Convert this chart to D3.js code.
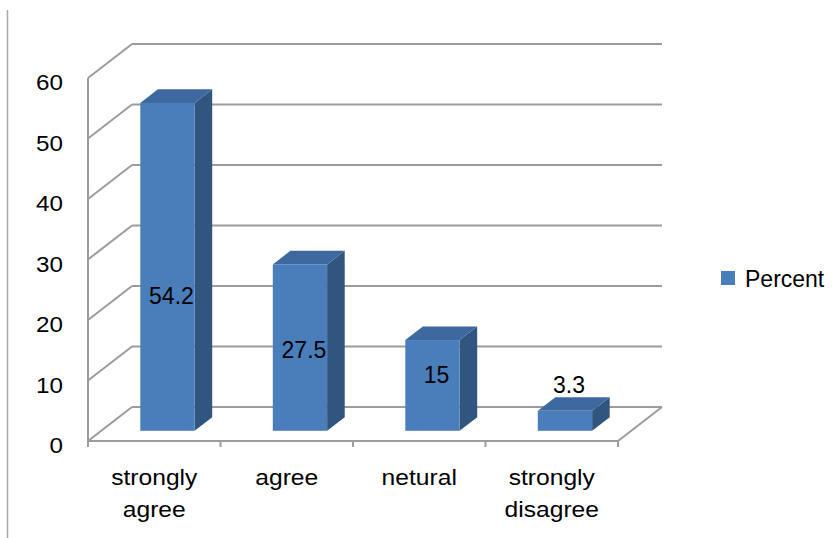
<!DOCTYPE html>
<html>
<head>
<meta charset="utf-8">
<script src="https://cdn.jsdelivr.net/npm/d3@7/dist/d3.min.js"></script>
<style>
  html, body { margin: 0; padding: 0; background: #fff; }
  svg { display: block; }
  text { font-family: "Liberation Sans", Arial, sans-serif; fill: #000; }
</style>
</head>
<body>
<div id="chart"></div>
<script>
// ---- data ----
const categories = ["strongly agree", "agree", "netural", "strongly disagree"];
const values = [54.2, 27.5, 15, 3.3];
const yTicks = [0, 10, 20, 30, 40, 50, 60];
const seriesName = "Percent";

// ---- layout ----
const W = 838, H = 538;
const svg = d3.select("#chart").append("svg").attr("width", W).attr("height", H);

const depth = { dx: 44, dy: -34 };           // full depth of the 3D walls
const barDepth = [0.3, 0.7];                  // bars sit in the middle of the depth
const x = d3.scaleBand().domain(categories).range([88, 618]).padding(0);
const y = d3.scaleLinear().domain([0, 60]).range([441, 78]);
const proj = (px, py, f) => [px + f * depth.dx, py + f * depth.dy];

const gridColor = "#9c9c9c";
const colFront = "#4A7EBB", colTop = "#3E69A0", colSide = "#30557F";

// outer left border line
svg.append("line").attr("x1", 7.5).attr("x2", 7.5).attr("y1", 10).attr("y2", H)
  .attr("stroke", "#a8a8a8").attr("stroke-width", 1.5);

const grid = svg.append("g").attr("fill", "none").attr("stroke", gridColor).attr("stroke-width", 2);
const xL = x.range()[0], xR = x.range()[1];

// back wall gridlines + left wall diagonals
yTicks.forEach(v => {
  const b0 = proj(xL, y(v), 1), b1 = proj(xR, y(v), 1), f0 = proj(xL, y(v), 0);
  grid.append("line").attr("x1", b0[0]).attr("y1", b0[1]).attr("x2", b1[0]).attr("y2", b1[1]);
  grid.append("line").attr("x1", f0[0]).attr("y1", f0[1]).attr("x2", b0[0]).attr("y2", b0[1]);
});
// left wall front vertical edge
grid.append("line").attr("x1", xL).attr("x2", xL).attr("y1", y(60)).attr("y2", y(0) + 6);
// floor front edge and right edge
const fr = proj(xR, y(0), 0), br = proj(xR, y(0), 1);
grid.append("line").attr("x1", xL).attr("y1", y(0)).attr("x2", xR).attr("y2", y(0));
grid.append("line").attr("x1", fr[0]).attr("y1", fr[1]).attr("x2", br[0]).attr("y2", br[1]);
// category boundary ticks
categories.forEach((c, i) => {
  const tx = x(c) + x.bandwidth();
  grid.append("line").attr("x1", tx).attr("x2", tx).attr("y1", y(0)).attr("y2", y(0) + 6);
});

// y tick labels
const tickG = svg.append("g");
yTicks.forEach(v => {
  tickG.append("text")
    .attr("transform", `translate(63,${y(v) + 12}) scale(1.1,1)`)
    .attr("text-anchor", "end").attr("font-size", 22).text(v);
});

// bars
const bw = x.bandwidth() * 0.41;
const barsG = svg.append("g");
categories.forEach((c, i) => {
  const v = values[i];
  const bx0 = x(c) + (x.bandwidth() - bw) / 2, bx1 = bx0 + bw;
  const yt = y(v), yb = y(0);
  const [f0, f1] = barDepth;
  const poly = pts => pts.map(p => p.join(",")).join(" ");
  // side face
  barsG.append("polygon").attr("fill", colSide)
    .attr("points", poly([proj(bx1, yt, f0), proj(bx1, yt, f1), proj(bx1, yb, f1), proj(bx1, yb, f0)]));
  // top face
  barsG.append("polygon").attr("fill", colTop)
    .attr("points", poly([proj(bx0, yt, f0), proj(bx1, yt, f0), proj(bx1, yt, f1), proj(bx0, yt, f1)]));
  // front face
  const fa = proj(bx0, yt, f0), fb = proj(bx1, yb, f0);
  barsG.append("rect").attr("fill", colFront)
    .attr("x", fa[0]).attr("y", fa[1]).attr("width", fb[0] - fa[0]).attr("height", fb[1] - fa[1]);

  // value label
  const barH = fb[1] - fa[1];
  let cy;
  if (barH < 40) cy = proj(bx0, yt, f1)[1] - 13;
  else cy = fb[1] - (25.6 + 0.335 * barH);
  barsG.append("text")
    .attr("x", (fa[0] + fb[0]) / 2 + 4).attr("y", cy + 8.3)
    .attr("text-anchor", "middle").attr("font-size", 23).text(v);
});

// category labels
const catG = svg.append("g");
categories.forEach(c => {
  const cx = x(c) + x.bandwidth() / 2;
  c.split(" ").forEach((line, j) => {
    catG.append("text")
      .attr("transform", `translate(${cx},${485 + j * 32}) scale(1.12,1)`)
      .attr("text-anchor", "middle").attr("font-size", 22).text(line);
  });
});

// legend
const lg = svg.append("g");
lg.append("rect").attr("x", 721).attr("y", 271).attr("width", 14).attr("height", 14).attr("fill", colFront);
lg.append("text").attr("x", 745).attr("y", 287).attr("font-size", 23).text(seriesName);
</script>
</body>
</html>
